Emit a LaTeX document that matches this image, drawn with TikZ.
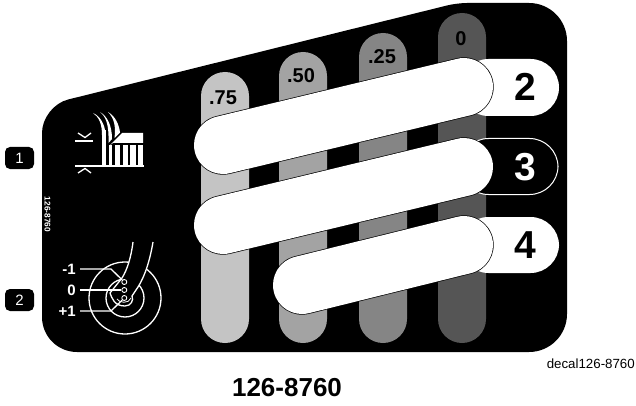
\documentclass[tikz,border=0pt]{standalone}
\usepackage{fontspec}
\setmainfont{Liberation Sans}
\usepackage{tikz}
\usetikzlibrary{positioning, calc}
\newcommand{\pxfont}[1]{\fontsize{#1}{#1}\selectfont}
\tikzset{
    bar/.style={rounded corners=24pt},
    barlabel/.style={font=\pxfont{20}\bfseries, color=black, inner sep=0pt},
    tab/.style={rounded corners=28.5pt, line width=1pt},
    tablabel/.style={font=\pxfont{39}\bfseries, inner sep=0pt},
    slotedge/.style={line width=59.4pt, line cap=round, black},
    slotfill/.style={line width=58pt, line cap=round, white},
    callout/.style={fill=black, text=white, rounded corners=5pt, font=\pxfont{15}, inner sep=0pt, minimum width=29pt, minimum height=22pt},
    wire/.style={white, line width=1.3pt},
    stop/.style={circle, draw=white, fill=black, line width=0.9pt, inner sep=0pt, minimum size=5pt},
    stoplabel/.style={font=\pxfont{15}\bfseries, text=white, inner sep=0pt, anchor=east}
}

\begin{document}
\begin{tikzpicture}[x=1pt, y=-1pt]
        \useasboundingbox (0,0) rectangle (636,406);

        % Decal plate
        \fill[black] (42,200) [rounded corners=27pt] -- (42,106) [rounded corners=10pt] -- (457,3) [rounded corners=38pt] -- (567,3) -- (567,352) [rounded corners=35pt] -- (42,352) [sharp corners] -- cycle;

        % Height bars, lightest on the left
        \foreach \name/\xc/\ytop/\shade/\val/\lx/\ly in {a/225/72/196/.75/223/98, b/303/52/163/.50/301/76, c/383/33/133/.25/382/57, d/462/13/85/0/461/39} {
            \definecolor{barshade}{RGB}{\shade,\shade,\shade}
            \fill[bar, fill=barshade] (\xc-24,\ytop) rectangle (\xc+24,343);
            \node[barlabel] (\name) at (\lx,\ly) {\val};
        }

        % Tabs at the right end of the slots
        \fill[tab, white] (460,59) rectangle (559,116);
        \draw[tab, draw=white, fill=black] (460,138.5) rectangle (558,194.5);
        \fill[tab, white] (460,217) rectangle (559,273);

        % Slanted slots
        \coordinate (s2a) at (223,145);
        \coordinate (s2b) at (464,87);
        \coordinate (s3a) at (223,225);
        \coordinate (s3b) at (464,167);
        \coordinate (s4a) at (302,285);
        \coordinate (s4b) at (464,245);
        \foreach \s in {s2,s3,s4} {
            \draw[slotedge] (\s a) -- (\s b);
            \draw[slotfill] (\s a) -- (\s b);
        }
        \node[tablabel, text=black] (t2) at (525,87) {2};
        \node[tablabel, text=white] (t3) at (525,167) {3};
        \node[tablabel, text=black] (t4) at (525,245) {4};

        % Callouts outside the plate
        \node[callout] (c1) at (19.5,158) {1};
        \node[callout] (c2) at (19.5,300) {2};

        % Height of cut icon
        \fill[white] (75,165) rectangle (144,167);
        \fill[white] (75,140) rectangle (93,142);
        \draw[white, line width=1.3pt] (78,133) -- (85,137.5) -- (91,133);
        \draw[white, line width=1.3pt] (78,173) -- (85,168.5) -- (91,173);
        \fill[white] (102,130) rectangle (105.7,166);
        \foreach \xa/\xb in {108.5/112, 115/119.5, 122.5/127.5, 130/135.5, 138/143} {
            \fill[white] (\xa,145) rectangle (\xb,166);
        }
        \fill[white] (93,113) .. controls (99,117) and (102,124) .. (102,135) -- (105.7,135) .. controls (105,124) and (100,116) .. cycle;
        \fill[white] (100,112) .. controls (106,117) and (109,124) .. (108.5,143) -- (112,139) .. controls (112,125) and (107,116) .. cycle;
        \fill[white] (108,112) .. controls (114,118) and (116,126) .. (114.5,138) -- (120,132.5) .. controls (119,124) and (115,116) .. cycle;
        \fill[white] (109,146) -- (122,133) -- (143,133) -- (143,143) -- (113,143) -- cycle;

        % Caster icon
        \draw[wire] (125,298) circle[radius=36];
        \draw[wire] (125,298) circle[radius=19];
        \draw[wire, fill=black] (133,242) .. controls (131,258) and (127,270) .. (122,278) -- (110,293) .. controls (112,298) and (114,306) .. (125,306) .. controls (131,306) and (134,300) .. (132,296) -- (138,287) .. controls (145,276) and (150,260) .. (153,242);
        \draw[wire, line width=0.8pt] (117,299) .. controls (119,303) and (129,304) .. (131,298);
        \node[stop] (d1) at (124.3,282) {};
        \node[stop] (d2) at (124.3,290) {};
        \node[stop] (d3) at (124.3,298) {};
        \node[stoplabel] (m1) at (76,269) {-1};
        \node[stoplabel] (z0) at (76,290) {0};
        \node[stoplabel] (p1) at (76,311) {+1};
        \coordinate (k1) at (111,269);
        \coordinate (k3) at (111,311);
        \draw[wire] ($(m1.east)+(4,0)$) -- (k1) -- (d1);
        \draw[wire] ($(z0.east)+(4,0)$) -- (d2);
        \draw[wire] ($(p1.east)+(4,0)$) -- (k3) -- (d3);

        % Texts
        \node[rotate=-90, font=\pxfont{8.3}\bfseries, text=white, inner sep=0pt] (code) at (47.5,214.5) {126-8760};
        \node[font=\pxfont{26}\bfseries, inner sep=0pt] (title) at (287,388) {126-8760};
        \node[font=\pxfont{13.3}, inner sep=0pt, anchor=east] (decal) at (635,364) {decal126-8760};
    \end{tikzpicture}
\end{document}
